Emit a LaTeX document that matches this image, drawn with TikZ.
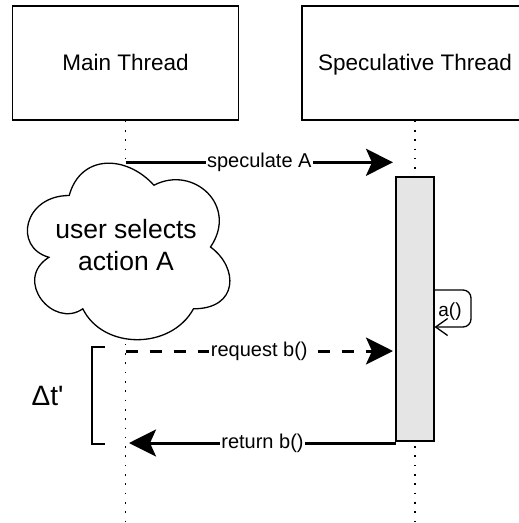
\documentclass[tikz,border=0pt]{standalone}
\usepackage{fontspec}
\setmainfont{Liberation Sans}
\usetikzlibrary{arrows.meta}

\tikzset{
  lane/.style={draw, line width=1.3pt, minimum width=226pt, minimum height=114pt,
    inner sep=0pt, text height=16pt, text depth=2pt,
    font=\fontsize{22.5}{27}\selectfont},
  lifeline/.style={line width=1.6pt, dash pattern=on 1.6pt off 7.7pt},
  activation/.style={draw, line width=1.4pt, fill=black!10, minimum width=38pt,
    minimum height=264pt, inner sep=0pt},
  msg/.style={line width=3pt, -{Stealth[length=27pt,width=27pt,inset=6pt]}},
  msgdashed/.style={msg, dash pattern=on 12pt off 12pt},
  msglabel/.style={fill=white, inner sep=1.5pt, font=\fontsize{20}{23}\selectfont},
  selfcall/.style={line width=1.3pt, rounded corners=8pt,
    -{Straight Barb[length=12pt,width=17pt,line width=1.3pt]}},
  thin/.style={line width=1.3pt},
  cloudtext/.style={align=center, font=\fontsize{26.5}{31.7}\selectfont},
  delta/.style={font=\fontsize{28}{32}\selectfont}
}

\begin{document}
\begin{tikzpicture}[x=1pt, y=-1pt]
  \useasboundingbox (0,0) rectangle (519,523);
  \clip (0,0) rectangle (519,523);

  % thread headers
  \node[lane] (main) at (125.6,63) {Main Thread};
  \node[lane] (spec) at (415,63) {Speculative Thread};

  % lifelines
  \coordinate (mainEnd) at (125.6,523);
  \coordinate (specEnd) at (415,523);
  \draw[lifeline] (main.south) -- (mainEnd);
  \draw[lifeline] (spec.south) -- (specEnd);

  % activation bar of the speculative thread
  \node[activation] (act) at (415,309) {};

  % thought cloud on the main thread
  \draw[thin, fill=white]
    (69.2,195.5)
    .. controls (24.0,195.5) and (12.7,247.0) .. (48.9,257.3)
    .. controls (12.7,280.0) and (53.4,329.4) .. (82.8,308.8)
    .. controls (103.1,350.0) and (170.9,350.0) .. (193.5,308.8)
    .. controls (238.7,308.8) and (238.7,267.6) .. (210.5,247.0)
    .. controls (238.7,205.8) and (193.5,164.6) .. (153.95,185.2)
    .. controls (125.7,154.3) and (80.5,154.3) .. (69.2,195.5) -- cycle;
  \node[cloudtext] (thought) at (126,245) {user selects\\action A};

  % messages
  \coordinate (specFrom) at (125.6,162.3);
  \coordinate (specTo) at (393,162.3);
  \draw[msg] (specFrom) -- node[msglabel] (lblSpec) {speculate A} (specTo);

  \coordinate (reqFrom) at (125.6,351);
  \coordinate (reqTo) at (393,351);
  \draw[msgdashed] (reqFrom) -- node[msglabel] (lblReq) {request b()} (reqTo);

  \coordinate (retFrom) at (396,443);
  \coordinate (retTo) at (129,443);
  \draw[msg] (retFrom) -- node[msglabel] (lblRet) {return b()} (retTo);

  % self call a()
  \coordinate (selfFrom) at (434,290);
  \coordinate (selfTo) at (434.5,327);
  \draw[selfcall] (selfFrom) -- (471,290) -- (471,327) -- (selfTo);
  \node[font=\fontsize{19}{22}\selectfont] (lblSelf) at (450,312) {a()};

  % waiting interval bracket
  \coordinate (brTop) at (105,347);
  \coordinate (brBot) at (105,444);
  \draw[thin] (brTop) -- (92,347) -- (92,444) -- (brBot);
  \node[delta] (dt) at (47.5,396) {Δt\textquotesingle};
\end{tikzpicture}
\end{document}
